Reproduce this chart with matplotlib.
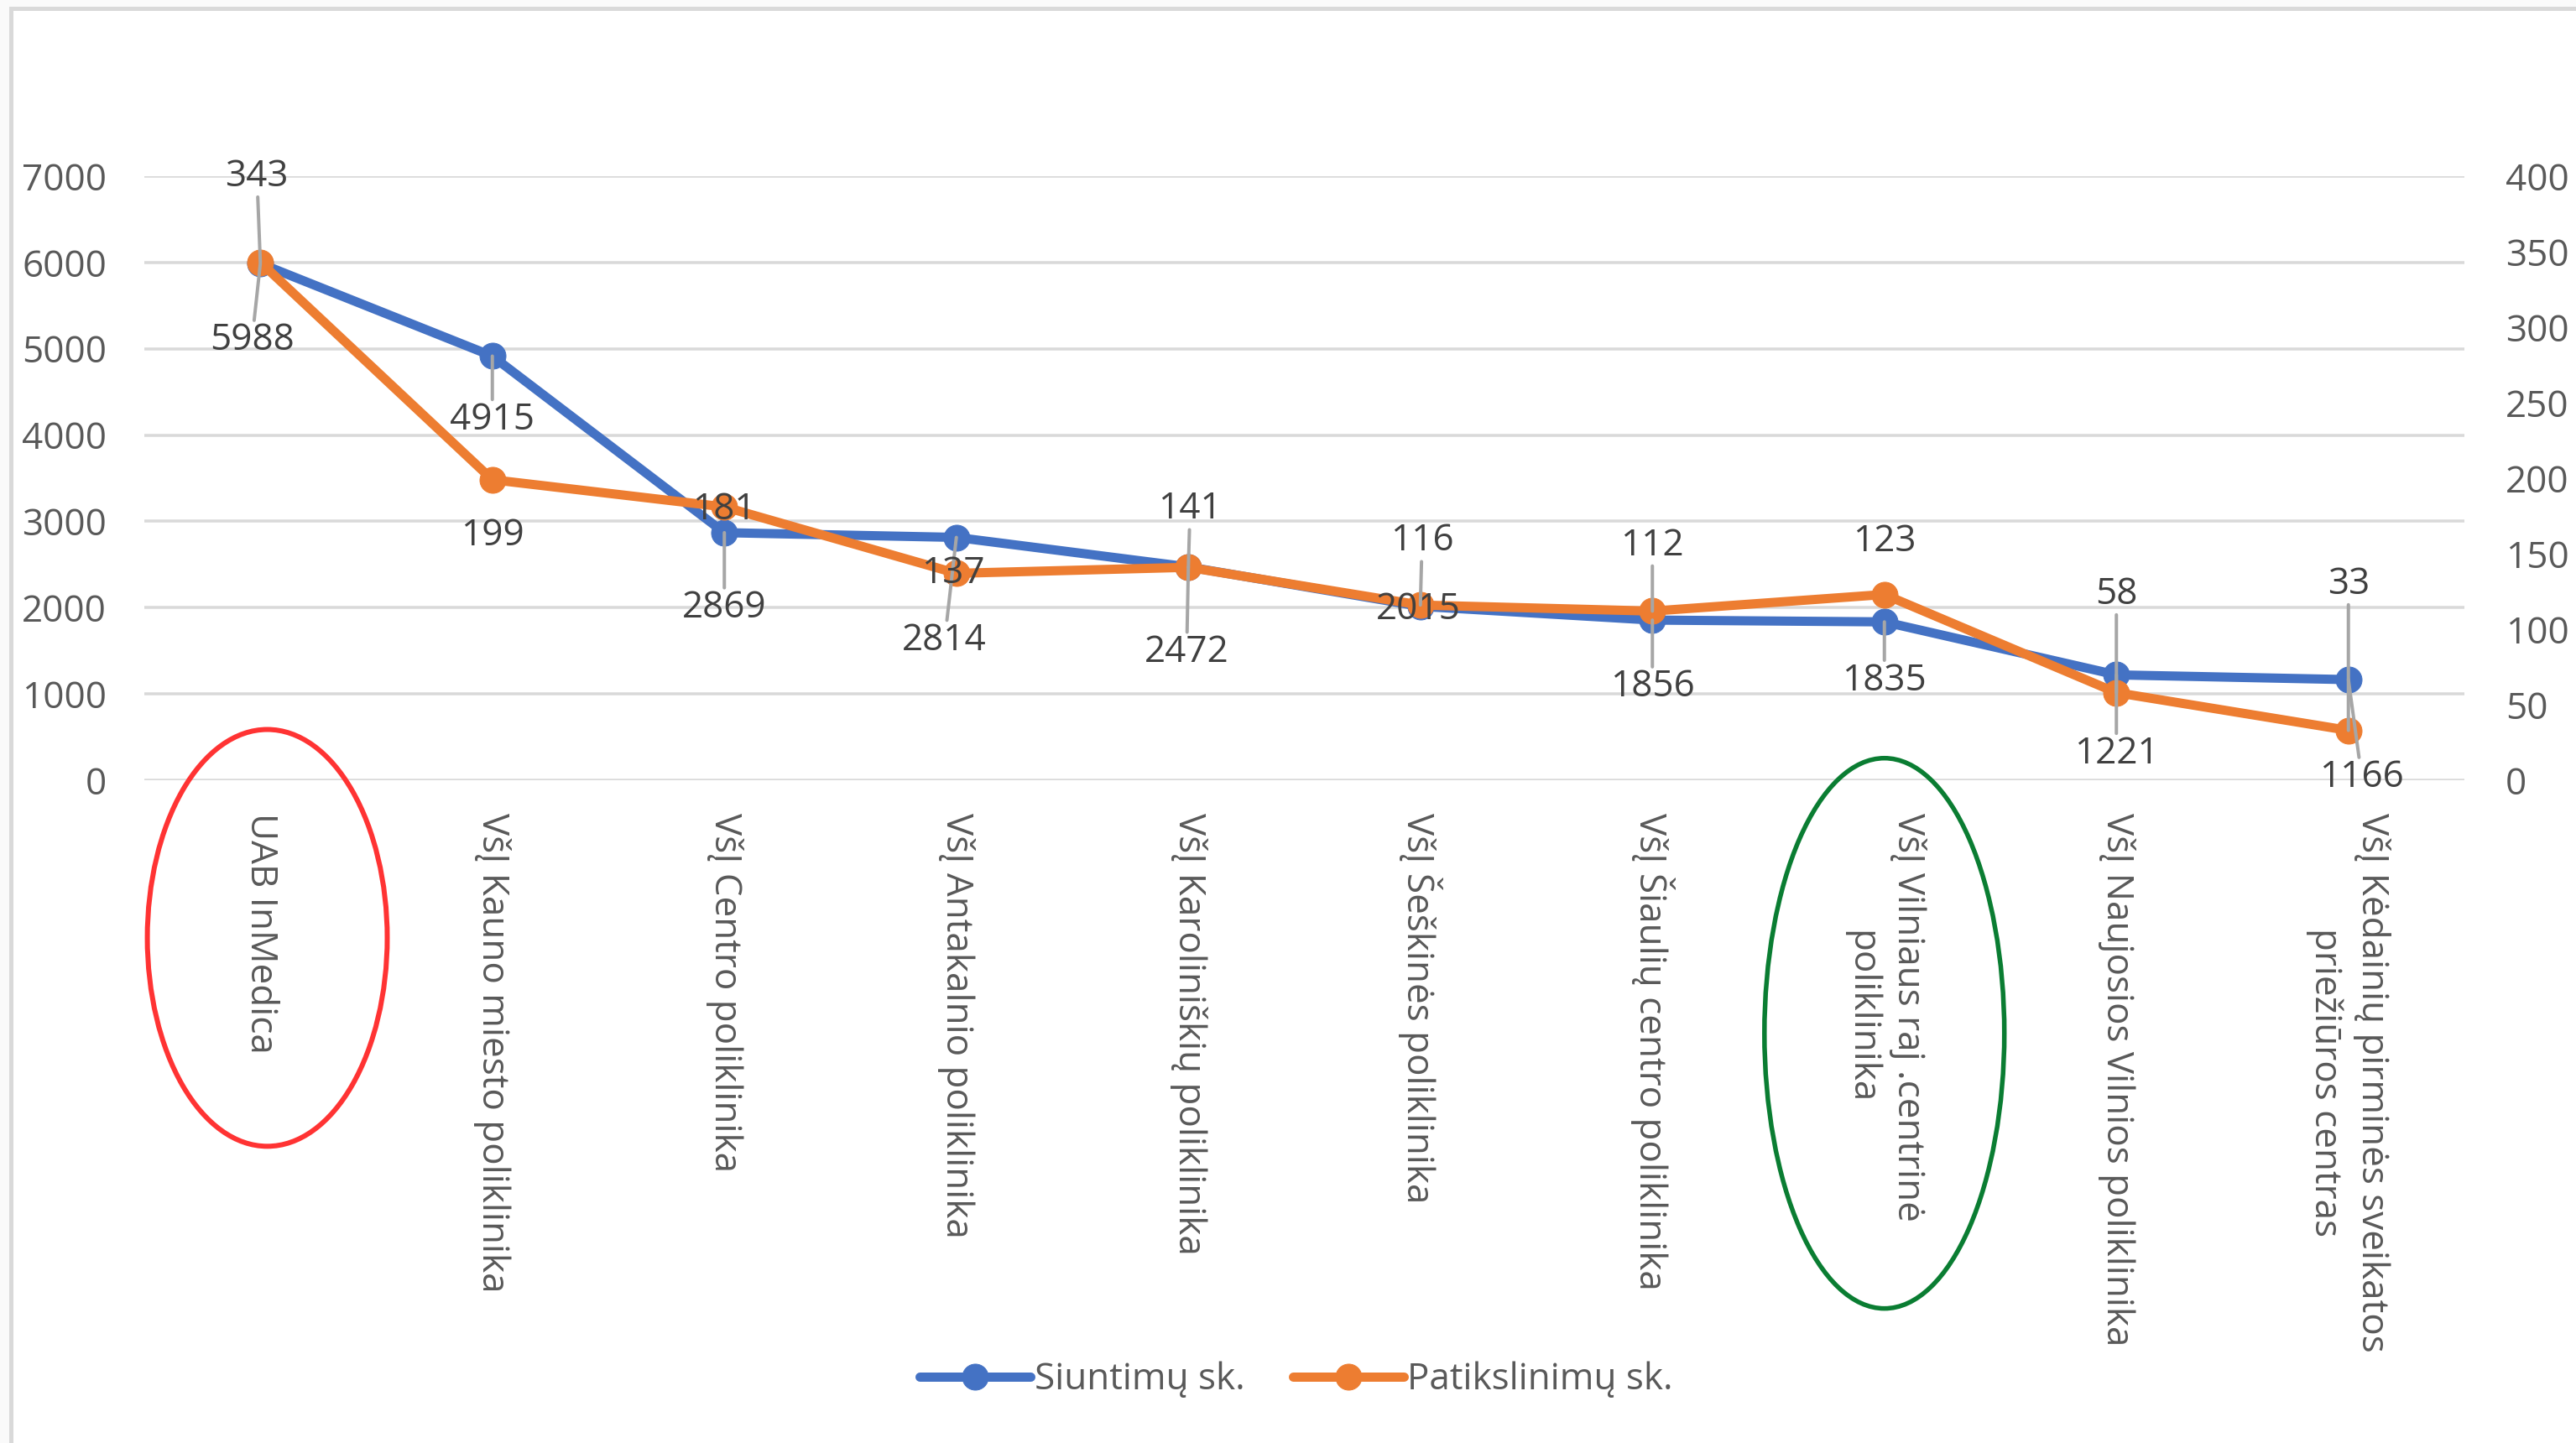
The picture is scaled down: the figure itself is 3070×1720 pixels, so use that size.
import numpy as np
import matplotlib
matplotlib.use("Agg")
import matplotlib.pyplot as plt
from matplotlib.patches import Ellipse, Rectangle
from matplotlib.transforms import blended_transform_factory

plt.rcParams['font.family'] = ['Open Sans', 'DejaVu Sans']

# duomenys
istaigos = [
    "UAB InMedica",
    "VšĮ Kauno miesto poliklinika",
    "VšĮ Centro poliklinika",
    "VšĮ Antakalnio poliklinika",
    "VšĮ Karoliniškių poliklinika",
    "VšĮ Šeškinės poliklinika",
    "VšĮ Šiaulių centro poliklinika",
    "VšĮ Vilniaus raj .centrinė\npoliklinika",
    "VšĮ Naujosios Vilnios poliklinika",
    "VšĮ Kėdainių pirminės sveikatos\npriežiūros centras",
]
siuntimai = [5988, 4915, 2869, 2814, 2472, 2015, 1856, 1835, 1221, 1166]
patikslinimai = [343, 199, 181, 137, 141, 116, 112, 123, 58, 33]

kaire_ticks = list(range(0, 7001, 1000))
desine_ticks = list(range(0, 401, 50))

# etikeciu poslinkiai (px), kaip Excel'yje buvo sudelioti ranka
blue_off = [(-10, -92), (0, -76), (0, -90), (-14, -123), (-2, -102),
            (-2, -4), (0, -80), (0, -70), (0, -94), (16, -117)]
orange_off = [(-4, 102), (0, -67), (0, -4), (-4, 0), (2, 69),
              (2, 76), (0, 78), (0, 63), (0, 117), (0, 174)]

W, H = 3070, 1720
fig = plt.figure(figsize=(W / 72, H / 72), dpi=72, facecolor='#FAFAFA')
fig.add_artist(Rectangle((12.5 / W, -0.1), 2, 1.1 - 9.5 / H, transform=fig.transFigure,
                         facecolor='white', edgecolor='#D9D9D9', lw=5, zorder=-1))

ax = fig.add_axes([172 / W, 1 - 930 / H, (2937 - 172) / W, 720 / H])
ax.set_facecolor('none')
ax2 = ax.twinx()

x = np.arange(len(istaigos))
blue = '#4472C4'
orange = '#ED7D31'
fs = 44

ax.plot(x, siuntimai, color=blue, lw=11, marker='o', ms=31, solid_capstyle='round',
        label='Siuntimų sk.')
ax2.plot(x, patikslinimai, color=orange, lw=11, marker='o', ms=31, solid_capstyle='round',
         label='Patikslinimų sk.')

ax.set_xlim(-0.5, len(istaigos) - 0.5)
ax.set_ylim(0, 7000)
ax2.set_ylim(0, 400)
ax.set_yticks(kaire_ticks)
ax2.set_yticks(desine_ticks)
ax.set_xticks(x)
ax.set_xticklabels(istaigos, rotation=-90, ha='center', va='top', multialignment='center',
                   fontsize=fs, color='#595959', linespacing=1.35)
ax.tick_params(axis='x', length=0, pad=39)
ax.tick_params(axis='y', length=0, pad=45, labelsize=fs, labelcolor='#595959')
ax2.tick_params(axis='y', length=0, pad=49, labelsize=fs, labelcolor='#595959')
for a in (ax, ax2):
    for s in a.spines.values():
        s.set_visible(False)
ax.yaxis.grid(True, color='#D9D9D9', lw=3.5)
ax.set_axisbelow(True)

# reiksmiu etiketes
def zyme(val, xi, off, coords):
    lead = abs(off[1]) >= 68
    ap = dict(arrowstyle='-', color='#A6A6A6', lw=4, shrinkA=0, shrinkB=0) if lead else None
    ax2.annotate(str(val), (xi, val), xycoords=coords, xytext=off, textcoords='offset points',
                 ha='center', va='center', fontsize=fs, color='#404040',
                 arrowprops=ap, zorder=5)

for i in range(len(x)):
    zyme(siuntimai[i], x[i], blue_off[i], ax.transData)
    zyme(patikslinimai[i], x[i], orange_off[i], ax2.transData)

# apibraukimai
tr = blended_transform_factory(ax.transData, ax.transAxes)
ax.add_patch(Ellipse((0.03, -0.261), 1.034, 0.69, transform=tr, fill=False,
                     ec='#FF3333', lw=6, clip_on=False))
ax.add_patch(Ellipse((7, -0.419), 1.034, 0.911, transform=tr, fill=False,
                     ec='#0A7D32', lw=5.5, clip_on=False))

h1, l1 = ax.get_legend_handles_labels()
h2, l2 = ax2.get_legend_handles_labels()
fig.legend(h1 + h2, l1 + l2, loc='center', bbox_to_anchor=(1545 / W, 75 / H),
           ncol=2, frameon=False, fontsize=fs, handlelength=3, handletextpad=0.1,
           columnspacing=1.3, labelcolor='#595959')

fig.savefig('out.png', dpi=72, facecolor=fig.get_facecolor())
